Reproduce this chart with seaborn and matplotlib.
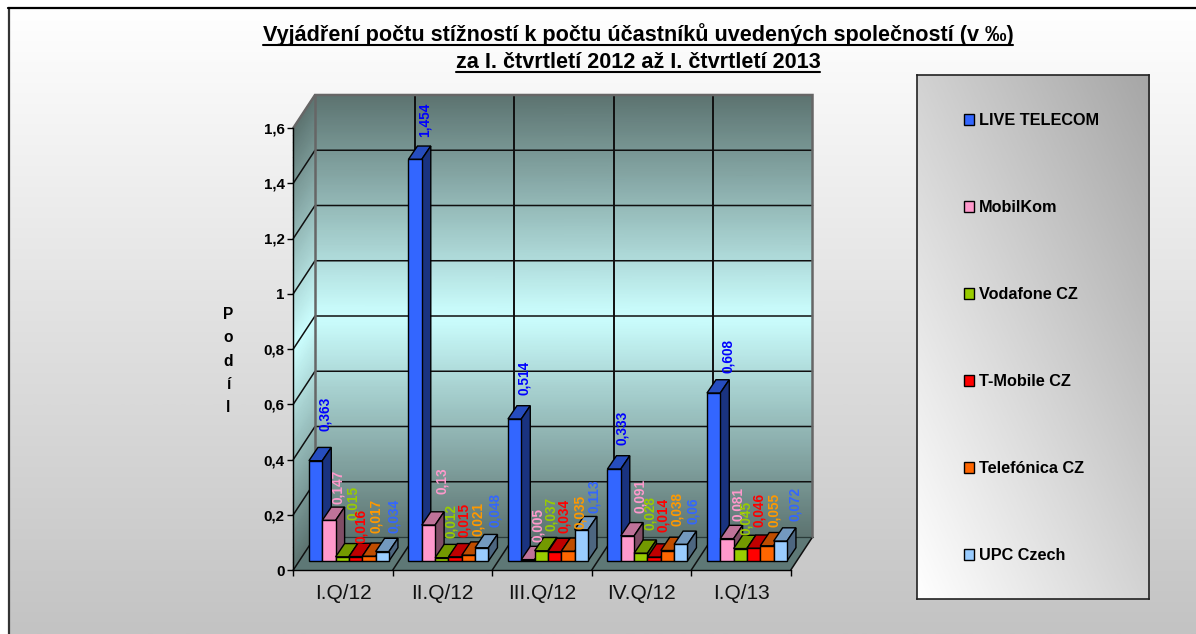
import numpy as np
import pandas as pd
import seaborn as sns
import matplotlib
matplotlib.use("Agg")
import matplotlib.pyplot as plt
from matplotlib.colors import LinearSegmentedColormap, to_rgb
from matplotlib.lines import Line2D
from matplotlib.patches import Patch, Polygon

quarters = ["I.Q/12", "II.Q/12", "III.Q/12", "IV.Q/12", "I.Q/13"]
companies = ["LIVE TELECOM", "MobilKom", "Vodafone CZ", "T-Mobile CZ", "Telefónica CZ", "UPC Czech"]
live_telecom = [0.363, 1.454, 0.514, 0.333, 0.608]
mobilkom = [0.147, 0.13, 0.005, 0.091, 0.081]
vodafone = [0.015, 0.012, 0.037, 0.028, 0.045]
t_mobile = [0.016, 0.015, 0.034, 0.014, 0.046]
telefonica = [0.017, 0.021, 0.035, 0.038, 0.055]
upc = [0.034, 0.048, 0.113, 0.06, 0.072]
series = [live_telecom, mobilkom, vodafone, t_mobile, telefonica, upc]

bar_colors = ["#3366FF", "#FF99CC", "#99CC00", "#FF0000", "#FF6600", "#99CCFF"]
label_colors = ["#0000FF", "#FF99CC", "#99CC00", "#FF0000", "#FF9900", "#3366FF"]
title_lines = ["Vyjádření počtu stížností k počtu účastníků uvedených společností (v ‰)",
               "za I. čtvrtletí 2012 až I. čtvrtletí 2013"]

# hand placement of the data labels, pixels from each bar's top centre (rows: quarters)
label_dx = [[9, 9, 10.7, 5.8, 6.8, 11.8], [9.5, 13.5, 8.9, 8.9, 10, 13.7],
            [9.3, 10.4, 10.1, 9.4, 11.8, 12.5], [8.3, 12.4, 9.4, 9.1, 9.1, 11.8],
            [14, 11, 6.1, 5.1, 6.8, 15.2]]
label_dy = [[29.6, 16.2, 36.8, 13.9, 23, 18.9], [22.5, 30.6, 19.4, 20.1, 19.2, 20.4],
            [24.4, 17.9, 20, 18.3, 22, 16.9], [23.6, 22.4, 23.2, 24.8, 24.8, 20.4],
            [19.6, 17.8, 13.5, 20.9, 19, 20.3]]

df = pd.DataFrame([(q, c, s[i]) for c, s in zip(companies, series) for i, q in enumerate(quarters)],
                  columns=["quarter", "company", "value"])

W, H = 1196, 634
sns.set_theme(style="white")
plt.rcParams["font.family"] = ["Liberation Sans", "DejaVu Sans"]
fig = plt.figure(figsize=(W / 100, H / 100), dpi=100, facecolor="white")


def axes_px(x0, y0, x1, y1, **kw):
    return fig.add_axes([x0 / W, 1 - y1 / H, (x1 - x0) / W, (y1 - y0) / H], **kw)


# plot geometry in pixels
FX0, FX1, FY0, FY1 = 293.3, 790.8, 128.0, 570.0   # front plane
BACK_DX, BACK_DY = 21.7, 33.0                      # wall depth
BAR_DX, BAR_DY = 5.9, 9.0                          # bar plane inset
DEPTH_DX, DEPTH_DY = 9.0, 13.3                     # bar depth

# ---------- page background and walls (pixel coordinates)
bg = axes_px(0, 0, W, H, zorder=0)
bg.set_xlim(0, W)
bg.set_ylim(H, 0)
bg.axis("off")
page = LinearSegmentedColormap.from_list("page", ["#FFFFFF", "#C3C3C3"])
bg.imshow(np.linspace(0, 1, 256)[:, None], cmap=page, extent=(10, W, H, 9), aspect="auto")
bg.set_xlim(0, W)
bg.set_ylim(H, 0)
bg.plot([9, 9], [8, H], color="#333333", lw=1.6)
bg.plot([8, W], [8, 8], color="black", lw=1.6)

wall = LinearSegmentedColormap.from_list("wall", ["#5C7370", "#CCFFFF", "#5C7370"])
t = np.linspace(0, 1, 60)
u = np.array([0.0, 1.0])
TT, UU = np.meshgrid(t, u, indexing="ij")
# back wall
bg.pcolormesh(FX0 + BACK_DX + UU * (FX1 - FX0), FY0 - BACK_DY + TT * (FY1 - FY0), TT,
              cmap=wall, shading="gouraud", vmin=0, vmax=1)
# left wall
bg.pcolormesh(FX0 + UU * BACK_DX, FY0 - UU * BACK_DY + TT * (FY1 - FY0), TT,
              cmap=wall, shading="gouraud", vmin=0, vmax=1)
# floor
bg.add_patch(Polygon([(FX0, FY1), (FX1, FY1), (FX1 + BACK_DX, FY1 - BACK_DY), (FX0 + BACK_DX, FY1 - BACK_DY)],
                     closed=True, facecolor="#5E7876", edgecolor="none"))
bg.set_xlim(0, W)
bg.set_ylim(H, 0)

ymax = 1.6
yticks = [0, 0.2, 0.4, 0.6, 0.8, 1, 1.2, 1.4, 1.6]
ytick_labels = ["0", "0,2", "0,4", "0,6", "0,8", "1", "1,2", "1,4", "1,6"]
for v in yticks[1:-1]:
    yp = FY1 - v / ymax * (FY1 - FY0)
    bg.plot([FX0, FX0 + BACK_DX, FX1 + BACK_DX], [yp, yp - BACK_DY, yp - BACK_DY], color="#101010", lw=1.1)
yp = FY1 - BACK_DY
bg.plot([FX0 + BACK_DX, FX1 + BACK_DX], [yp, yp], color="#2A3A38", lw=0.9)
for k in range(1, len(quarters)):
    xp = FX0 + k * (FX1 - FX0) / len(quarters)
    bg.plot([xp + BACK_DX, xp + BACK_DX], [FY0 - BACK_DY, FY1 - BACK_DY], color="#101010", lw=1.4)
for k in range(0, len(quarters) + 1):
    xp = FX0 + k * (FX1 - FX0) / len(quarters)
    bg.plot([xp, xp + BACK_DX], [FY1, FY1 - BACK_DY], color="#101010", lw=1.1)
bg.plot([FX0, FX0 + BACK_DX, FX1 + BACK_DX, FX1 + BACK_DX], [FY0, FY0 - BACK_DY, FY0 - BACK_DY, FY1 - BACK_DY],
        color="#666666", lw=1.8, solid_joinstyle="miter")
bg.plot([FX0 + BACK_DX, FX0 + BACK_DX], [FY0 - BACK_DY, FY1 - BACK_DY], color="#666666", lw=1.8)

# ---------- front axis with the ticks
ax = axes_px(FX0, FY0, FX1, FY1, zorder=2)
ax.patch.set_alpha(0)
ax.set_xlim(-0.5, len(quarters) - 0.5)
ax.set_ylim(0, ymax)
for s in ["top", "right"]:
    ax.spines[s].set_visible(False)
for s in ["left", "bottom"]:
    ax.spines[s].set_color("black")
    ax.spines[s].set_linewidth(1.0)
ax.set_yticks(yticks, ytick_labels, fontsize=10.9, fontweight="bold", color="black")
ax.tick_params(axis="y", left=True, length=4.6, width=1.0, color="black", pad=1.5)
ax.set_xticks(np.arange(len(quarters) + 1) - 0.5, [""] * (len(quarters) + 1))
ax.set_xticks(np.arange(len(quarters)), quarters, minor=True, fontsize=15, color="#111111")
ax.tick_params(axis="x", which="major", bottom=True, length=4.6, width=1.0, color="black")
ax.tick_params(axis="x", which="minor", bottom=False, length=0, pad=10)
ax.set_ylabel("P\no\nd\ní\nl", rotation=0, fontsize=11.2, fontweight="bold", color="black",
              linespacing=1.68, ha="center", va="center")
ax.yaxis.set_label_coords((228 - FX0) / (FX1 - FX0), (FY1 - 361) / (FY1 - FY0))

# ---------- bars, one plane inside the floor
bx = axes_px(FX0 + BAR_DX, FY0 - BAR_DY, FX1 + BAR_DX, FY1 - BAR_DY, zorder=3)
sns.barplot(data=df, x="quarter", y="value", hue="company", order=quarters, hue_order=companies,
            palette=bar_colors, width=0.804, gap=0, dodge=True, saturation=1,
            edgecolor="black", linewidth=1.0, legend=False, ax=bx)
bx.set_xlim(-0.5, len(quarters) - 0.5)
bx.set_ylim(0, ymax)
bx.axis("off")

ddx = DEPTH_DX / ((FX1 - FX0) / len(quarters))
ddy = DEPTH_DY / ((FY1 - FY0) / ymax)


def shade(c, f):
    return tuple(f * v for v in to_rgb(c))


for j, container in enumerate(bx.containers):
    for i, bar in enumerate(container):
        x0, w, h = bar.get_x(), bar.get_width(), bar.get_height()
        z = 10 + (i * len(companies) + j) * 3
        bar.set_zorder(z + 2)
        bar.set_clip_on(False)
        bx.add_patch(Polygon([(x0, h), (x0 + w, h), (x0 + w + ddx, h + ddy), (x0 + ddx, h + ddy)], closed=True,
                             facecolor=shade(bar_colors[j], 0.75), edgecolor="black", lw=1.0, zorder=z,
                             clip_on=False))
        bx.add_patch(Polygon([(x0 + w, 0), (x0 + w + ddx, ddy), (x0 + w + ddx, h + ddy), (x0 + w, h)], closed=True,
                             facecolor=shade(bar_colors[j], 0.5), edgecolor="black", lw=1.0, zorder=z,
                             clip_on=False))
        bx.annotate(f"{series[j][i]}".replace(".", ","), xy=(x0 + w / 2, h),
                    xytext=(label_dx[i][j], label_dy[i][j]), textcoords="offset pixels",
                    rotation=90, ha="center", va="bottom", fontsize=9.8, fontweight="bold",
                    color=label_colors[j], zorder=500, annotation_clip=False)

# ---------- legend panel
lg = axes_px(916.5, 74.7, 1148.7, 599, zorder=1)
xx, yy = np.meshgrid(np.linspace(0, 1, 200), np.linspace(0, 1, 200))
panel = LinearSegmentedColormap.from_list("panel", ["#FFFFFF", "#A6A6A6"])
lg.imshow((xx + (1 - yy)) / 2, cmap=panel, aspect="auto", extent=(0, 1, 0, 1), origin="upper", vmin=0, vmax=1)
lg.set_xticks([])
lg.set_yticks([])
for s in lg.spines.values():
    s.set_color("#222222")
    s.set_linewidth(1.2)
handles = [Patch(facecolor=c, edgecolor="black", lw=1.0) for c in bar_colors]
FS = 11.7
legend = lg.legend(handles, companies, loc="upper left",
                   bbox_to_anchor=((964 - 916.5) / 232.2, 1 - (119.3 - 74.7 - 6) / 524.3),
                   frameon=False, borderpad=0, borderaxespad=0, handlelength=0.62, handleheight=0.62,
                   handletextpad=0.3, labelspacing=4.43, prop={"family": "Liberation Sans", "weight": "bold", "size": FS},
                   labelcolor="black")

# ---------- underlined title
fig.canvas.draw()
renderer = fig.canvas.get_renderer()
for line, yc in zip(title_lines, [35, 62]):
    txt = fig.text(638 / W, 1 - yc / H, line, ha="center", va="center", fontsize=15.6, fontweight="bold", color="black")
    e = txt.get_window_extent(renderer)
    yl = (yc + 9.5)
    fig.add_artist(Line2D([e.x0 / W, e.x1 / W], [1 - yl / H, 1 - yl / H], color="black", lw=1.5,
                          transform=fig.transFigure))

fig.savefig("out.png", dpi=100, facecolor="white")
